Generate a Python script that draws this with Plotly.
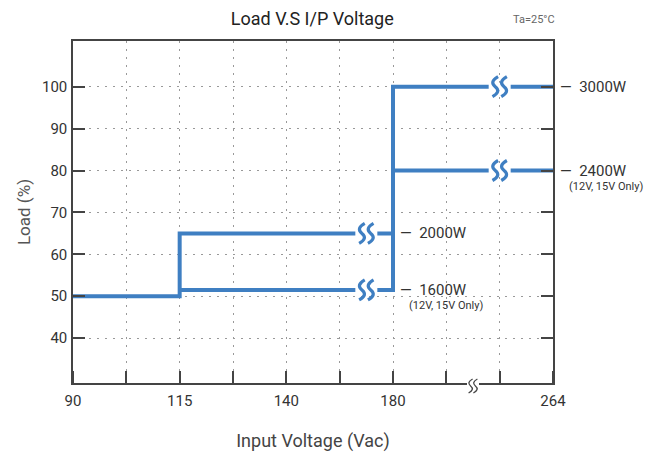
import plotly.graph_objects as go

# ---- data ----
tick_pos = [0, 2, 4, 6, 9]
tick_labels = ["90", "115", "140", "180", "264"]
grid_pos = [0, 1, 2, 3, 4, 5, 6, 7, 8, 9]
load_ticks = [40, 50, 60, 70, 80, 90, 100]

# load curve segments (x in axis slots, y in %)
curve_x = [0, 2, 2, 6, None, 2, 6, 6, 9, None, 6, 9]
curve_y = [50, 50, 65, 65, None, 51.5, 51.5, 100, 100, None, 80, 80]

# curve break marks
line_breaks_x = [5.5, 5.5, 8.0, 8.0]
line_breaks_y = [65, 51.5, 100, 80]
axis_break_x = 7.5

# right side labels
label_text = ["3000W", "2400W", "2000W", "1600W"]
label_x = [9, 9, 6, 6]
label_y = [100, 80, 65, 51.5]
label_note = ["", "(12V, 15V Only)", "", "(12V, 15V Only)"]

BLUE = "#3f7fc2"
DARK = "#333333"
FONT = "Roboto"


def wave(cx, h, dy=0.0):
    # one vertical wavy stroke, in pixels relative to the anchor
    a = h / 2.0
    w = h * 0.14
    return (f"M{cx + w:.1f},{a + dy:.1f} Q{cx - 2.2 * w:.1f},{a / 2 + dy:.1f} {cx:.1f},{dy:.1f} "
            f"Q{cx + 2.2 * w:.1f},{-a / 2 + dy:.1f} {cx - w:.1f},{-a + dy:.1f}")


def break_shapes(x, y, yref, color, h, gap, lw, cover, dy=0.0):
    shp = [dict(type="path", xref="x", yref=yref, xsizemode="pixel",
                ysizemode="pixel", xanchor=x, yanchor=y,
                path=f"M{-gap},{-cover} L{gap},{-cover} L{gap},{cover} L{-gap},{cover} Z",
                fillcolor="white", line=dict(width=0), layer="above")]
    for cx in (-gap * 0.4, gap * 0.4):
        shp.append(dict(type="path", xref="x", yref=yref, xsizemode="pixel",
                        ysizemode="pixel", xanchor=x, yanchor=y,
                        path=wave(cx, h, dy),
                        line=dict(color=color, width=lw), layer="above"))
    return shp


fig = go.Figure()
fig.add_trace(go.Scatter(x=curve_x, y=curve_y, mode="lines",
                         line=dict(color=BLUE, width=4), hoverinfo="skip",
                         showlegend=False))

shapes = []
for bx, by in zip(line_breaks_x, line_breaks_y):
    shapes += break_shapes(bx, by, "y", BLUE, 20, 11, 3.2, 4)
shapes += break_shapes(axis_break_x, 0, "paper", "#444444", 14, 6, 1.3, 2, dy=-3)

annotations = []
for t, lx, ly, note in zip(label_text, label_x, label_y, label_note):
    annotations.append(dict(x=lx, y=ly, xref="x", yref="y", text="—  " + t,
                            showarrow=False, xanchor="left", xshift=5,
                            font=dict(family=FONT, size=15, color=DARK)))
    if note:
        annotations.append(dict(x=lx, y=ly, xref="x", yref="y", text=note,
                                showarrow=False, xanchor="left", xshift=14,
                                yshift=-16,
                                font=dict(family=FONT, size=11, color=DARK)))
annotations.append(dict(x=1, y=1, xref="paper", yref="paper", text="Ta=25°C",
                        showarrow=False, xanchor="right", yanchor="bottom",
                        xshift=4, yshift=13,
                        font=dict(family=FONT, size=11, color="#666666")))

fig.update_layout(
    width=653, height=454,
    margin=dict(l=65, r=108, t=33, b=79),
    paper_bgcolor="white", plot_bgcolor="white",
    title=dict(text="Load V.S I/P Voltage", x=0.466, xanchor="center",
               y=0.99, yanchor="top", pad=dict(t=0, b=0),
               font=dict(family=FONT, size=18, color="#222222")),
    annotations=annotations,
    shapes=shapes,
    showlegend=False,
)

fig.update_xaxes(
    range=[0, 9], tickvals=tick_pos, ticktext=tick_labels,
    showgrid=False, zeroline=False, automargin=False,
    showline=True, linecolor="#444444", linewidth=1.5, mirror=True,
    tickfont=dict(family=FONT, size=15, color=DARK),
    ticklabelstandoff=3,
    title=dict(text="Input Voltage (Vac)", standoff=26,
               font=dict(family=FONT, size=18, color="#444444")),
    ticks="", fixedrange=True,
)
# vertical dotted grid with inside ticks via minor grid
fig.update_xaxes(minor=dict(tickvals=grid_pos, showgrid=True,
                            gridcolor="#999999", gridwidth=1,
                            griddash="2px,6px", ticks="inside", ticklen=12,
                            tickcolor="#444444", tickwidth=1.5))

fig.update_yaxes(
    range=[29.3, 110.9], tickvals=load_ticks,
    showgrid=True, gridcolor="#999999", gridwidth=1, griddash="2px,6px",
    zeroline=False, automargin=False,
    showline=True, linecolor="#444444", linewidth=1.5, mirror="ticks",
    ticks="inside", ticklen=12, tickcolor="#444444", tickwidth=1.5,
    tickfont=dict(family=FONT, size=15, color=DARK),
    ticklabelstandoff=1,
    title=dict(text="Load (%)", standoff=7,
               font=dict(family=FONT, size=17, color="#555555")),
    fixedrange=True,
)

fig.write_html("out.html")
